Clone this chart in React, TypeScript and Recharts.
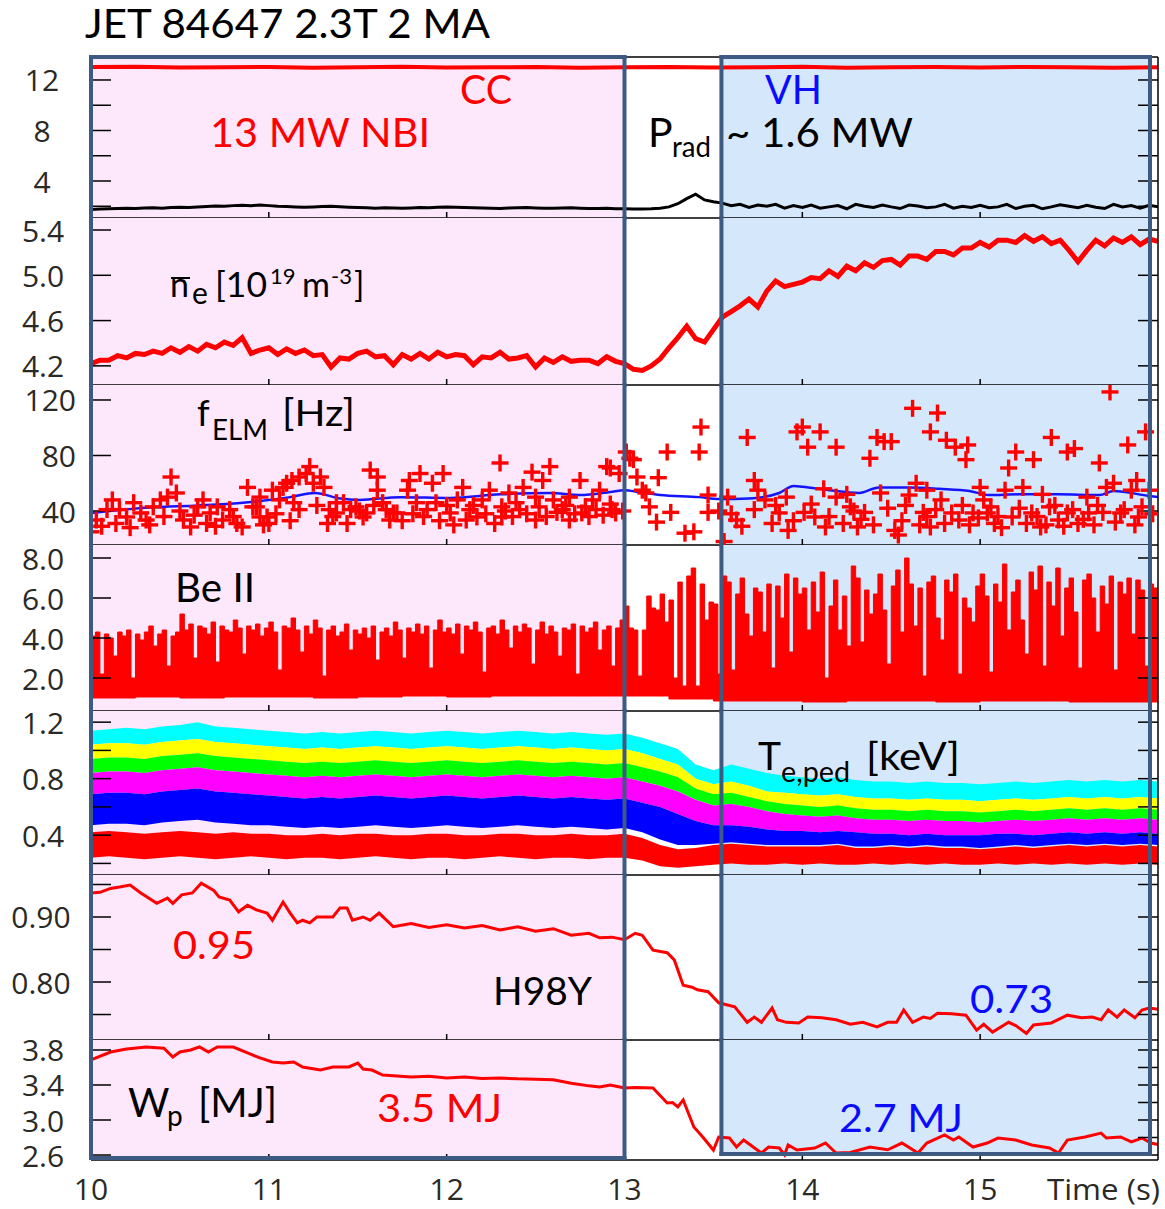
import React from 'react';
import {
  ComposedChart,
  Line,
  Area,
  Scatter,
  XAxis,
  YAxis,
  ReferenceArea,
  ReferenceLine,
} from 'recharts';

// sampling start of the uniformly sampled traces (s)
const T0 = 10;

// panel 1: NBI power and radiated power [MW]
const NBI_DT = 0.25;
const nbiPower = [
  13.02, 13.05, 12.98, 13.0, 13.03, 12.97, 13.01, 13.04, 12.99, 13.0, 13.02, 12.96, 13.0,
  13.03, 12.98, 13.01, 13.04, 12.97, 13.0, 13.02, 12.98, 13.03, 13.0, 12.97, 13.0,
];
const PRAD_DT = 0.05;
const pradPower = [
  1.75, 1.78, 1.8, 1.82, 1.85, 1.83, 1.86, 1.88, 1.85, 1.9, 1.92, 1.9, 1.95, 1.98, 2.02, 2.0, 2.05, 2.08, 2.05, 2.1,
  2.05, 2.0, 1.98, 1.95, 1.92, 1.95, 1.98, 2.0, 1.96, 1.93, 1.9, 1.88, 1.85, 1.88, 1.86, 1.84, 1.87, 1.9, 1.88, 1.92,
  1.95, 1.92, 1.9, 1.88, 1.86, 1.85, 1.83, 1.86, 1.88, 1.9, 1.87, 1.85, 1.84, 1.86, 1.88, 1.85, 1.83, 1.82, 1.84, 1.8,
  1.8, 1.78, 1.78, 1.8, 1.85, 1.95, 2.2, 2.6, 2.95, 2.5, 2.35, 2.25, 2.05, 2.15, 1.9, 2.1, 2.0, 2.15, 1.85, 2.05,
  1.9, 2.1, 1.85, 1.95, 2.05, 1.8, 2.15, 2.0, 1.9, 2.1, 1.95, 1.82, 2.1, 2.02, 1.88, 1.95, 2.15, 1.85, 2.0, 1.9,
  2.08, 1.88, 1.95, 2.15, 1.82, 2.0, 2.08, 1.8, 1.95, 2.12, 2.0, 1.88, 2.08, 1.92, 1.82, 2.15, 1.95, 2.05, 1.85, 2.08,
  1.95,
];

// panel 2: line averaged density [1e19 m^-3]
const NE_DT = 0.05;
const neLine = [
  4.22, 4.25, 4.25, 4.29, 4.27, 4.31, 4.3, 4.33, 4.31, 4.36, 4.32, 4.37, 4.33, 4.39, 4.36, 4.41, 4.38, 4.45, 4.31, 4.34,
  4.36, 4.3, 4.35, 4.31, 4.34, 4.29, 4.3, 4.19, 4.27, 4.26, 4.31, 4.33, 4.28, 4.29, 4.21, 4.3, 4.26, 4.31, 4.26, 4.32,
  4.28, 4.3, 4.29, 4.21, 4.28, 4.27, 4.32, 4.26, 4.27, 4.29, 4.19, 4.27, 4.23, 4.28, 4.24, 4.25, 4.25, 4.22, 4.28, 4.24,
  4.22, 4.17, 4.16, 4.2, 4.26, 4.36, 4.45, 4.55, 4.44, 4.41, 4.52, 4.63, 4.68, 4.73, 4.79, 4.72, 4.86, 4.95, 4.9, 4.92,
  4.94, 4.98, 4.97, 5.04, 4.99, 5.08, 5.04, 5.11, 5.07, 5.13, 5.14, 5.09, 5.17, 5.17, 5.14, 5.21, 5.21, 5.18, 5.24, 5.24,
  5.29, 5.25, 5.31, 5.31, 5.29, 5.35, 5.3, 5.34, 5.28, 5.31, 5.22, 5.12, 5.22, 5.31, 5.26, 5.33, 5.29, 5.34, 5.27, 5.32,
  5.3,
];

// panel 3: ELM frequency [Hz] as [t, f]
const elmFreq: [number, number][] = [
  [10.0, 25], [10.03, 33.5], [10.06, 29], [10.09, 41], [10.12, 48], [10.14, 31], [10.16, 41], [10.2, 35.7],
  [10.22, 28], [10.24, 46], [10.28, 38.6], [10.31, 33.5], [10.33, 30], [10.35, 43], [10.39, 48], [10.41, 36],
  [10.43, 50], [10.45, 64.5], [10.48, 53], [10.5, 40], [10.52, 33.5], [10.56, 28.5], [10.58, 37], [10.6, 43],
  [10.63, 48], [10.65, 31], [10.67, 38.6], [10.7, 29], [10.71, 43], [10.74, 33.5], [10.78, 41], [10.8, 36],
  [10.82, 31], [10.85, 28.5], [10.88, 57], [10.91, 43], [10.93, 43], [10.95, 50], [10.95, 35.7], [10.97, 30],
  [10.99, 35.7], [11.0, 31], [11.02, 55], [11.04, 38], [11.06, 48], [11.08, 57], [11.1, 60], [11.12, 33],
  [11.13, 62], [11.14, 46], [11.17, 64.5], [11.17, 41], [11.21, 67], [11.23, 72], [11.25, 60], [11.27, 44],
  [11.29, 64.5], [11.31, 57], [11.33, 31], [11.34, 41], [11.36, 36], [11.38, 38.6], [11.38, 46], [11.42, 46],
  [11.44, 31], [11.46, 41], [11.49, 43], [11.51, 40], [11.53, 35.7], [11.55, 38.6], [11.57, 69.5], [11.59, 44],
  [11.61, 64.5], [11.61, 55], [11.64, 46], [11.66, 41], [11.68, 33.5], [11.7, 38.6], [11.72, 38.6], [11.75, 33],
  [11.78, 55], [11.79, 62], [11.81, 38], [11.83, 46], [11.85, 67], [11.87, 36], [11.89, 41], [11.92, 60],
  [11.94, 46], [11.96, 33], [11.98, 67], [12.0, 44], [12.02, 38.6], [12.04, 30], [12.06, 48], [12.09, 57],
  [12.11, 33.5], [12.13, 41], [12.15, 44], [12.17, 35.7], [12.2, 48], [12.22, 38], [12.24, 55], [12.27, 31],
  [12.3, 74.6], [12.31, 43], [12.31, 35.7], [12.33, 40], [12.35, 53], [12.37, 36], [12.39, 46], [12.41, 41],
  [12.43, 57], [12.45, 38], [12.48, 68], [12.5, 50], [12.5, 33.5], [12.52, 43], [12.54, 62], [12.56, 36],
  [12.58, 72], [12.6, 48], [12.62, 39], [12.65, 41], [12.67, 44], [12.69, 50], [12.69, 33.5], [12.72, 38],
  [12.75, 62], [12.76, 38.6], [12.78, 43], [12.8, 36], [12.82, 48], [12.84, 41], [12.86, 55], [12.88, 37],
  [12.9, 72], [12.92, 71], [12.92, 45], [12.93, 41], [12.95, 38.6], [12.97, 67], [12.99, 40],
  [13.01, 82.5], [13.03, 78], [13.05, 77], [13.07, 64.5], [13.1, 55], [13.12, 53], [13.14, 43], [13.18, 32],
  [13.19, 64], [13.24, 82.5], [13.26, 39], [13.34, 24], [13.39, 25], [13.42, 82.5], [13.43, 100.5], [13.47, 51.5],
  [13.47, 39], [13.53, 40], [13.56, 18], [13.58, 50],
  [13.6, 38], [13.63, 33.5], [13.66, 29], [13.69, 93], [13.73, 62], [13.73, 41], [13.75, 55], [13.79, 48],
  [13.83, 31], [13.85, 44], [13.87, 38.6], [13.91, 50], [13.92, 26], [13.95, 33], [13.97, 97], [14.0, 100.5],
  [14.01, 39], [14.03, 86], [14.05, 45], [14.07, 35.7], [14.1, 97], [14.12, 56], [14.13, 28.5], [14.15, 36],
  [14.19, 86], [14.19, 50], [14.23, 31], [14.25, 52], [14.27, 43], [14.29, 40], [14.31, 28.5], [14.33, 34],
  [14.35, 39], [14.38, 78], [14.4, 30], [14.42, 93], [14.44, 53], [14.46, 90], [14.48, 42], [14.5, 90],
  [14.52, 26], [14.54, 22.7], [14.56, 33], [14.58, 44], [14.6, 51.5], [14.62, 114], [14.64, 60], [14.66, 30],
  [14.68, 39], [14.7, 55], [14.7, 36], [14.72, 97], [14.72, 28.5], [14.75, 41], [14.76, 110.6], [14.78, 48],
  [14.8, 31], [14.81, 91], [14.84, 38.6], [14.86, 86], [14.88, 33.5], [14.9, 44], [14.92, 77], [14.93, 87.6],
  [14.94, 30], [14.96, 38.6], [14.99, 35], [15.0, 57], [15.02, 48], [15.04, 38.6], [15.06, 43], [15.08, 31],
  [15.1, 36], [15.12, 28], [15.14, 55], [15.16, 71], [15.18, 35.7], [15.2, 82.5], [15.22, 42], [15.24, 57],
  [15.26, 31], [15.29, 38.6], [15.3, 77], [15.32, 36], [15.34, 28.5], [15.35, 52], [15.37, 30], [15.39, 43],
  [15.4, 93], [15.42, 44], [15.44, 33.5], [15.47, 29], [15.49, 82.5], [15.49, 38.6], [15.52, 41], [15.53, 85],
  [15.55, 31], [15.58, 34], [15.6, 50], [15.61, 38.6], [15.64, 30], [15.66, 44], [15.67, 74.6], [15.69, 39],
  [15.71, 57], [15.73, 125.8], [15.75, 60], [15.76, 32], [15.79, 38.6], [15.81, 41], [15.83, 87.6], [15.85, 55],
  [15.87, 30], [15.88, 62], [15.89, 35.7], [15.91, 43], [15.93, 97], [15.95, 55], [15.97, 38],
];
const elmFreqAvg: [number, number][] = [
  [10.0, 38.6], [10.33, 42.5], [10.6, 44], [10.84, 45.8], [11.12, 50], [11.26, 53], [11.4, 49], [11.51, 48],
  [11.74, 50], [12.02, 49.4], [12.3, 52], [12.58, 53], [12.75, 51.5], [12.92, 53.7], [13.0, 55], [13.08, 53.7],
  [13.2, 51.5], [13.42, 50], [13.53, 48.6], [13.7, 49], [13.87, 53], [13.95, 58], [14.0, 57.5], [14.15, 55],
  [14.32, 53], [14.43, 57], [14.6, 57], [14.77, 56], [14.94, 54.4], [15.05, 51.5], [15.22, 52], [15.44, 52],
  [15.67, 51.5], [15.75, 54.4], [15.95, 50.8], [16.0, 50],
];

// panel 4: Be II signal, top of the trace and its floor
const BE_DT = 0.025;
const beIITop = [
  4.1, 4.3, 2.2, 4.2, 4.0, 3.1, 4.3, 4.1, 4.4, 2.0, 4.2, 3.9, 4.3, 4.6, 3.6, 4.2, 4.4, 2.6, 4.1, 4.3,
  5.2, 4.4, 4.7, 3.0, 4.6, 4.5, 4.2, 4.8, 2.8, 4.6, 4.4, 4.3, 4.9, 4.5, 3.2, 4.6, 4.4, 4.7, 4.1, 4.5,
  4.8, 4.3, 2.4, 4.6, 4.5, 5.0, 4.4, 3.3, 4.6, 4.2, 4.9, 4.5, 2.1, 4.4, 4.6, 4.1, 4.3, 4.7, 3.4, 4.4,
  4.2, 4.5, 4.0, 4.6, 2.9, 4.3, 4.5, 4.1, 4.8, 4.4, 3.0, 4.5, 4.3, 4.7, 4.2, 4.6, 2.5, 4.4, 4.9, 4.3,
  4.5, 4.2, 4.7, 3.2, 4.6, 4.4, 4.8, 4.3, 2.3, 4.5, 4.6, 4.2, 4.9, 4.4, 3.5, 4.6, 4.3, 4.7, 4.5, 2.7,
  4.4, 4.8, 4.2, 4.6, 4.3, 3.1, 4.5, 4.4, 4.7, 2.2, 4.6, 4.3, 4.5, 4.8, 3.4, 4.4, 4.6, 2.6, 4.5, 4.9,
  5.6, 4.5, 4.4, 2.1, 4.4, 6.1, 5.5, 5.4, 6.2, 4.8, 5.9, 2.0, 6.8, 1.6, 7.1, 7.5, 1.6, 6.7, 4.9, 5.8,
  5.7, 2.2, 7.1, 6.8, 2.4, 6.2, 7.0, 5.2, 4.1, 6.5, 6.3, 4.3, 6.7, 2.5, 6.6, 5.0, 7.2, 3.3, 7.0, 6.2,
  6.5, 4.4, 6.8, 5.3, 7.3, 2.0, 5.6, 6.9, 4.4, 6.1, 3.6, 7.6, 7.0, 3.8, 6.4, 5.2, 6.2, 7.2, 5.4, 2.7,
  6.6, 7.4, 4.3, 8.0, 6.7, 4.6, 6.5, 2.1, 6.8, 7.1, 5.0, 3.9, 6.9, 6.3, 7.2, 2.2, 6.0, 5.5, 4.8, 6.6,
  7.2, 6.1, 2.3, 6.7, 5.8, 7.7, 4.4, 6.3, 6.9, 4.9, 3.2, 7.3, 6.4, 7.6, 2.6, 6.8, 5.6, 7.5, 4.1, 6.5,
  7.0, 5.3, 2.5, 6.9, 7.2, 6.0, 4.3, 6.6, 5.7, 7.1, 2.4, 6.8, 6.2, 7.0, 4.2, 6.9, 6.4, 2.6, 6.7, 6.5,
  6.3,
];
const BE_BASE_DT = 0.25;
const beIIBase = [
  1.0, 1.05, 1.0, 1.05, 1.05, 1.0, 1.05, 1.1, 1.05, 1.1, 1.1, 1.1, 1.1, 0.95, 0.85, 0.85, 0.8, 0.85, 0.85,
  0.8, 0.85, 0.85, 0.8, 0.8, 0.85,
];

// panel 5: Te,ped channels [keV], edges of the coloured bands
const TE_DT = 0.1;
const teCyanTop = [
  1.14, 1.15, 1.16, 1.15, 1.17, 1.18, 1.2, 1.17, 1.16, 1.15, 1.14, 1.13, 1.12, 1.13, 1.12, 1.13, 1.14, 1.13, 1.12, 1.13,
  1.14, 1.13, 1.12, 1.13, 1.14, 1.13, 1.12, 1.13, 1.12, 1.11, 1.12, 1.09, 1.05, 1.01, 0.9, 0.86, 0.9, 0.87, 0.84, 0.82,
  0.81, 0.8, 0.81, 0.79, 0.78, 0.78, 0.77, 0.78, 0.77, 0.77, 0.76, 0.77, 0.78, 0.77, 0.78, 0.79, 0.78, 0.79, 0.78, 0.79,
  0.78,
];
const teCyanYellow = [
  1.04, 1.05, 1.05, 1.04, 1.06, 1.07, 1.08, 1.06, 1.05, 1.04, 1.03, 1.02, 1.01, 1.02, 1.01, 1.02, 1.03, 1.02, 1.01, 1.02,
  1.03, 1.02, 1.01, 1.02, 1.03, 1.02, 1.01, 1.02, 1.01, 1.0, 1.01, 0.98, 0.94, 0.9, 0.8, 0.76, 0.78, 0.75, 0.71, 0.7,
  0.69, 0.68, 0.69, 0.67, 0.66, 0.66, 0.65, 0.66, 0.65, 0.65, 0.64, 0.65, 0.66, 0.65, 0.66, 0.67, 0.66, 0.67, 0.66, 0.67,
  0.66,
];
const teYellowGreen = [
  0.94, 0.95, 0.95, 0.94, 0.96, 0.97, 0.98, 0.96, 0.95, 0.94, 0.93, 0.92, 0.91, 0.92, 0.91, 0.92, 0.93, 0.92, 0.91, 0.92,
  0.93, 0.92, 0.91, 0.92, 0.93, 0.92, 0.91, 0.92, 0.91, 0.9, 0.91, 0.88, 0.85, 0.81, 0.73, 0.69, 0.7, 0.67, 0.64, 0.62,
  0.61, 0.6, 0.61, 0.59, 0.58, 0.58, 0.57, 0.58, 0.57, 0.57, 0.56, 0.57, 0.58, 0.57, 0.58, 0.59, 0.58, 0.59, 0.58, 0.59,
  0.58,
];
const teGreenMagenta = [
  0.84, 0.85, 0.85, 0.84, 0.86, 0.87, 0.88, 0.86, 0.85, 0.84, 0.83, 0.82, 0.81, 0.82, 0.81, 0.82, 0.83, 0.82, 0.81, 0.82,
  0.83, 0.82, 0.81, 0.82, 0.83, 0.82, 0.81, 0.82, 0.81, 0.8, 0.81, 0.78, 0.75, 0.71, 0.65, 0.61, 0.62, 0.6, 0.57, 0.55,
  0.54, 0.53, 0.54, 0.52, 0.51, 0.51, 0.5, 0.51, 0.5, 0.5, 0.49, 0.5, 0.51, 0.5, 0.51, 0.52, 0.51, 0.52, 0.51, 0.52,
  0.51,
];
const teMagentaBlue = [
  0.69, 0.7, 0.7, 0.69, 0.71, 0.72, 0.73, 0.71, 0.7, 0.69, 0.68, 0.67, 0.66, 0.67, 0.66, 0.67, 0.68, 0.67, 0.66, 0.67,
  0.68, 0.67, 0.66, 0.67, 0.68, 0.67, 0.66, 0.67, 0.66, 0.65, 0.66, 0.63, 0.6, 0.55, 0.5, 0.47, 0.47, 0.46, 0.44, 0.43,
  0.43, 0.42, 0.43, 0.42, 0.41, 0.41, 0.4, 0.41, 0.4, 0.4, 0.4, 0.41, 0.41, 0.4, 0.41, 0.42, 0.41, 0.42, 0.41, 0.42,
  0.41,
];
const teBlueBottom = [
  0.47, 0.48, 0.48, 0.47, 0.49, 0.5, 0.51, 0.49, 0.48, 0.47, 0.47, 0.46, 0.45, 0.46, 0.45, 0.46, 0.47, 0.46, 0.45, 0.46,
  0.47, 0.46, 0.45, 0.46, 0.47, 0.46, 0.45, 0.46, 0.45, 0.44, 0.45, 0.42, 0.37, 0.33, 0.33, 0.34, 0.35, 0.34, 0.33, 0.33,
  0.33, 0.33, 0.34, 0.32, 0.32, 0.33, 0.32, 0.33, 0.32, 0.32, 0.31, 0.32, 0.33, 0.32, 0.33, 0.34, 0.33, 0.34, 0.33, 0.34,
  0.33,
];
const teRedTop = [
  0.42, 0.43, 0.42, 0.41, 0.42, 0.43, 0.42, 0.41, 0.42, 0.41, 0.41, 0.4, 0.4, 0.41, 0.4, 0.41, 0.41, 0.4, 0.4, 0.41,
  0.41, 0.4, 0.4, 0.41, 0.41, 0.4, 0.4, 0.41, 0.4, 0.4, 0.41, 0.38, 0.33, 0.3, 0.31, 0.33, 0.34, 0.33, 0.32, 0.32,
  0.32, 0.32, 0.33, 0.31, 0.31, 0.32, 0.31, 0.32, 0.31, 0.31, 0.3, 0.31, 0.32, 0.31, 0.32, 0.33, 0.32, 0.33, 0.32, 0.33,
  0.32,
];
const teRedBottom = [
  0.24, 0.25, 0.24, 0.23, 0.24, 0.25, 0.24, 0.23, 0.24, 0.25, 0.24, 0.23, 0.24, 0.24, 0.23, 0.24, 0.25, 0.24, 0.23, 0.24,
  0.24, 0.23, 0.24, 0.25, 0.24, 0.23, 0.24, 0.24, 0.23, 0.24, 0.24, 0.22, 0.18, 0.17, 0.18, 0.19, 0.2, 0.19, 0.19, 0.2,
  0.19, 0.2, 0.19, 0.19, 0.2, 0.19, 0.2, 0.19, 0.2, 0.19, 0.19, 0.2, 0.19, 0.2, 0.19, 0.2, 0.19, 0.2, 0.19, 0.2,
  0.19,
];

// panel 6: confinement factor H98Y as [t, H]
const h98y: [number, number][] = [
  [10.0, 0.937], [10.05, 0.938], [10.11, 0.944], [10.16, 0.946], [10.22, 0.949], [10.28, 0.937], [10.37, 0.921],
  [10.43, 0.929], [10.46, 0.921], [10.51, 0.934], [10.57, 0.937], [10.62, 0.952], [10.69, 0.941], [10.72, 0.931],
  [10.78, 0.926], [10.83, 0.908], [10.88, 0.918], [10.93, 0.911], [10.99, 0.906], [11.02, 0.895], [11.08, 0.923],
  [11.12, 0.906], [11.16, 0.891], [11.19, 0.895], [11.23, 0.891], [11.27, 0.9], [11.36, 0.9], [11.4, 0.914],
  [11.44, 0.914], [11.47, 0.895], [11.53, 0.9], [11.57, 0.895], [11.62, 0.906], [11.7, 0.885], [11.8, 0.89],
  [11.9, 0.884], [12.0, 0.888], [12.1, 0.883], [12.2, 0.887], [12.3, 0.88], [12.4, 0.885], [12.5, 0.878],
  [12.6, 0.882], [12.7, 0.872], [12.8, 0.875], [12.86, 0.868], [12.93, 0.869], [13.0, 0.865], [13.06, 0.875],
  [13.1, 0.872], [13.16, 0.849], [13.24, 0.845], [13.28, 0.834], [13.33, 0.795], [13.38, 0.792], [13.41, 0.788],
  [13.47, 0.785], [13.53, 0.768], [13.62, 0.762], [13.69, 0.738], [13.73, 0.746], [13.77, 0.738], [13.83, 0.76],
  [13.86, 0.742], [13.91, 0.738], [13.98, 0.737], [14.03, 0.746], [14.11, 0.745], [14.19, 0.742], [14.27, 0.735],
  [14.34, 0.738], [14.42, 0.731], [14.48, 0.738], [14.53, 0.738], [14.57, 0.757], [14.62, 0.738], [14.68, 0.746],
  [14.72, 0.744], [14.76, 0.752], [14.84, 0.751], [14.92, 0.749], [14.98, 0.726], [15.02, 0.735], [15.07, 0.723],
  [15.16, 0.738], [15.2, 0.733], [15.26, 0.721], [15.3, 0.734], [15.4, 0.737], [15.49, 0.749], [15.57, 0.745],
  [15.63, 0.746], [15.68, 0.742], [15.72, 0.757], [15.77, 0.746], [15.81, 0.757], [15.87, 0.745], [15.91, 0.757],
  [15.95, 0.76], [16.0, 0.758],
];

// panel 7: stored energy [MJ] as [t, Wp]
const wpMJ: [number, number][] = [
  [10.0, 3.686], [10.11, 3.777], [10.2, 3.81], [10.31, 3.834], [10.41, 3.82], [10.46, 3.72], [10.5, 3.777],
  [10.56, 3.8], [10.61, 3.834], [10.66, 3.777], [10.71, 3.834], [10.8, 3.834], [10.88, 3.766], [10.95, 3.709],
  [11.02, 3.663], [11.08, 3.651], [11.14, 3.663], [11.19, 3.606], [11.29, 3.571], [11.36, 3.606], [11.45, 3.606],
  [11.5, 3.651], [11.53, 3.583], [11.58, 3.571], [11.64, 3.514], [11.72, 3.503], [11.8, 3.49], [11.9, 3.5],
  [12.0, 3.48], [12.1, 3.49], [12.2, 3.475], [12.3, 3.48], [12.4, 3.47], [12.5, 3.465], [12.6, 3.46], [12.7, 3.42],
  [12.8, 3.39], [12.86, 3.377], [12.92, 3.4], [13.0, 3.366], [13.06, 3.37], [13.16, 3.366], [13.24, 3.194],
  [13.27, 3.2], [13.3, 3.149], [13.33, 3.229], [13.39, 2.92], [13.44, 2.806], [13.5, 2.657], [13.53, 2.806],
  [13.59, 2.794], [13.63, 2.691], [13.67, 2.771], [13.77, 2.623], [13.81, 2.691], [13.87, 2.68], [13.9, 2.6],
  [13.92, 2.714], [13.97, 2.657], [14.07, 2.68], [14.13, 2.737], [14.19, 2.623], [14.27, 2.63], [14.38, 2.691],
  [14.48, 2.66], [14.56, 2.737], [14.65, 2.623], [14.7, 2.737], [14.8, 2.829], [14.85, 2.771], [14.88, 2.806],
  [14.96, 2.691], [15.04, 2.737], [15.1, 2.794], [15.2, 2.771], [15.29, 2.714], [15.39, 2.68], [15.44, 2.623],
  [15.49, 2.771], [15.59, 2.806], [15.68, 2.851], [15.71, 2.794], [15.79, 2.806], [15.85, 2.749], [15.91, 2.794],
  [15.96, 2.737], [16.0, 2.72],
];

// phases: CC until 13.0 s, VH from ~13.55 s
const CC_END = 13.0;
const VH_START = 13.545;
const VH_END = 15.955;

// ---- rows for recharts ----
const nbiRows = nbiPower.map((v, i) => ({ t: T0 + i * NBI_DT, v }));
const pradRows = pradPower.map((v, i) => ({ t: T0 + i * PRAD_DT, v }));
const neRows = neLine.map((v, i) => ({ t: T0 + i * NE_DT, v }));
const elmRows = elmFreq.map(([t, f]) => ({ t, f }));
const elmAvgRows = elmFreqAvg.map(([t, v]) => ({ t, v }));
const beRows = beIITop.map((top, i) => {
  const t = T0 + i * BE_DT;
  const k = Math.min(beIIBase.length - 1, Math.floor((t - T0 + 1e-9) / BE_BASE_DT));
  return { t, r: [beIIBase[k], top] };
});
const teRows = teCyanTop.map((c, i) => ({
  t: T0 + i * TE_DT,
  cyan: [teCyanYellow[i], c],
  yellow: [teYellowGreen[i], teCyanYellow[i]],
  green: [teGreenMagenta[i], teYellowGreen[i]],
  magenta: [teMagentaBlue[i], teGreenMagenta[i]],
  blue: [teBlueBottom[i], teMagentaBlue[i]],
  red: [teRedBottom[i], teRedTop[i]],
}));
const h98Rows = h98y.map(([t, v]) => ({ t, v }));
const wpRows = wpMJ.map(([t, v]) => ({ t, v }));

// ---- layout / style ----
const W = 1165;
const H = 1209;
const PLOT_LEFT = 91;
const PLOT_RIGHT = 1158;
const PAD = 14;
const X_TICKS = [10, 11, 12, 13, 14, 15];

const PINK = '#fde7fb';
const BLUE_BG = '#d5e8fb';
const FRAME = '#3c5a82';
const RED = '#ff0000';
const TXT_BLUE = '#0b0bff';
const TICK_COLOR = '#2b2925';
const ANN_FONT = "Lato, 'Open Sans', sans-serif";
const TICK_FONT = "'Open Sans', 'Noto Sans', sans-serif";

type PanelProps = {
  top: number;
  height: number;
  domain: [number, number];
  leftTicks: number[];
  rightTicks: number[];
  labels: [number, string][];
  labelX: number;
  labelAnchor: 'middle' | 'end';
  first?: boolean;
  last?: boolean;
  pinkBottom?: number;
  blueBottom?: number;
  children: React.ReactNode;
};

function Panel(props: PanelProps) {
  const { top, height, domain, leftTicks, rightTicks, labels, labelX, labelAnchor, first, last, pinkBottom, blueBottom, children } = props;
  const [lo, hi] = domain;
  const bottomPad = last ? H - (top + height) : PAD;

  const leftTick = (p: any) => {
    const hit = labels.find(([v]) => Math.abs(v - p.payload.value) < 1e-9);
    if (!hit) return <g />;
    return (
      <text x={labelX} y={p.y} textAnchor={labelAnchor} dominantBaseline="central" fontSize={30} fontFamily={TICK_FONT} fill={TICK_COLOR}>
        {hit[1]}
      </text>
    );
  };
  const xTick = (p: any) => {
    if (!last) return <g />;
    return (
      <text x={p.x} y={PAD + height + 40} textAnchor="middle" fontSize={30} fontFamily={TICK_FONT} fill={TICK_COLOR}>
        {p.payload.value}
      </text>
    );
  };
  const border = { stroke: FRAME, strokeWidth: 4, strokeLinecap: 'square' as const, zIndex: 1500 };
  const pb = pinkBottom ?? lo;
  const bb = blueBottom ?? lo;

  return (
    <div style={{ position: 'absolute', left: 0, top: top - PAD }}>
      <ComposedChart
        width={W}
        height={height + PAD + bottomPad}
        margin={{ top: PAD, right: W - PLOT_RIGHT, bottom: bottomPad, left: PLOT_LEFT }}
      >
        <XAxis
          type="number"
          dataKey="t"
          domain={[10, 16]}
          ticks={X_TICKS}
          interval={0}
          allowDataOverflow
          mirror
          orientation="bottom"
          tickSize={6}
          axisLine={{ stroke: '#000', strokeWidth: 1.5 }}
          tickLine={{ stroke: '#000', strokeWidth: 1.5 }}
          tick={xTick}
        />
        <YAxis
          type="number"
          domain={domain}
          ticks={leftTicks}
          interval={0}
          allowDataOverflow
          mirror
          tickSize={20}
          axisLine={{ stroke: '#000', strokeWidth: 1.5 }}
          tickLine={{ stroke: '#000', strokeWidth: 1.5 }}
          tick={leftTick}
        />
        <YAxis
          yAxisId="r"
          orientation="right"
          type="number"
          domain={domain}
          ticks={rightTicks}
          interval={0}
          allowDataOverflow
          mirror
          tickSize={20}
          axisLine={{ stroke: '#000', strokeWidth: 1.5 }}
          tickLine={{ stroke: '#000', strokeWidth: 1.5 }}
          tick={() => <g />}
        />
        <ReferenceArea x1={10} x2={CC_END} y1={pb} y2={hi} fill={PINK} fillOpacity={1} stroke="none" zIndex={-90} />
        <ReferenceArea x1={VH_START} x2={VH_END} y1={bb} y2={hi} fill={BLUE_BG} fillOpacity={1} stroke="none" zIndex={-90} />
        {children}
        {first && <ReferenceLine y={hi} stroke="#000" strokeWidth={1.5} zIndex={1400} />}
        <ReferenceLine segment={[{ x: 10, y: pb }, { x: 10, y: hi }]} {...border} />
        <ReferenceLine segment={[{ x: CC_END, y: pb }, { x: CC_END, y: hi }]} {...border} />
        <ReferenceLine segment={[{ x: VH_START, y: bb }, { x: VH_START, y: hi }]} {...border} />
        <ReferenceLine segment={[{ x: VH_END, y: bb }, { x: VH_END, y: hi }]} {...border} />
        {first && <ReferenceLine segment={[{ x: 10, y: hi }, { x: CC_END, y: hi }]} {...border} />}
        {first && <ReferenceLine segment={[{ x: VH_START, y: hi }, { x: VH_END, y: hi }]} {...border} />}
        {last && <ReferenceLine segment={[{ x: 10, y: pb }, { x: CC_END, y: pb }]} {...border} />}
        {last && <ReferenceLine segment={[{ x: VH_START, y: bb }, { x: VH_END, y: bb }]} {...border} />}
      </ComposedChart>
    </div>
  );
}

const Plus = (p: any) => {
  const { cx, cy } = p;
  if (cx == null || cy == null) return <g />;
  return (
    <g stroke={RED} strokeWidth={3.4}>
      <line x1={cx - 8.5} x2={cx + 8.5} y1={cy} y2={cy} />
      <line x1={cx} x2={cx} y1={cy - 8.5} y2={cy + 8.5} />
    </g>
  );
};

function Annotations() {
  const f = ANN_FONT;
  return (
    <svg width={W} height={H} style={{ position: 'absolute', left: 0, top: 0, pointerEvents: 'none' }}>
      <text x={85} y={38} fontSize={40} fontFamily={f} fill="#000" textLength={405} lengthAdjust="spacingAndGlyphs">JET 84647 2.3T 2 MA</text>
      <text x={460} y={104} fontSize={41} fontFamily={f} fill={RED} textLength={52} lengthAdjust="spacingAndGlyphs">CC</text>
      <text x={765} y={104} fontSize={41} fontFamily={f} fill={TXT_BLUE} textLength={57} lengthAdjust="spacingAndGlyphs">VH</text>
      <text x={210} y={147} fontSize={41} fontFamily={f} fill={RED} textLength={220} lengthAdjust="spacingAndGlyphs">13 MW NBI</text>
      <text x={648} y={147} fontSize={41} fontFamily={f} fill="#000">P</text>
      <text x={672} y={157} fontSize={29} fontFamily={f} fill="#000" textLength={39} lengthAdjust="spacingAndGlyphs">rad</text>
      <text x={726} y={147} fontSize={41} fontFamily={f} fill="#000" textLength={187} lengthAdjust="spacingAndGlyphs">~ 1.6 MW</text>

      <text x={170} y={297} fontSize={34} fontFamily={f} fill="#000">n</text>
      <line x1={171} x2={190} y1={278} y2={278} stroke="#000" strokeWidth={2} />
      <text x={192} y={304} fontSize={30} fontFamily={f} fill="#000">e</text>
      <text x={215} y={297} fontSize={34} fontFamily={f} fill="#000" textLength={52} lengthAdjust="spacingAndGlyphs">[10</text>
      <text x={270} y={284} fontSize={22} fontFamily={f} fill="#000">19</text>
      <text x={302} y={297} fontSize={34} fontFamily={f} fill="#000">m</text>
      <text x={331} y={284} fontSize={22} fontFamily={f} fill="#000">-3</text>
      <text x={354} y={297} fontSize={34} fontFamily={f} fill="#000">]</text>

      <text x={197} y={426} fontSize={36} fontFamily={f} fill="#000">f</text>
      <text x={212} y={440} fontSize={28} fontFamily={f} fill="#000" textLength={56} lengthAdjust="spacingAndGlyphs">ELM</text>
      <text x={282} y={426} fontSize={36} fontFamily={f} fill="#000" textLength={73} lengthAdjust="spacingAndGlyphs">[Hz]</text>

      <text x={175} y={602} fontSize={40} fontFamily={f} fill="#000" textLength={80} lengthAdjust="spacingAndGlyphs">Be II</text>

      <text x={758} y={770} fontSize={39} fontFamily={f} fill="#000">T</text>
      <text x={781} y={782} fontSize={28} fontFamily={f} fill="#000" textLength={69} lengthAdjust="spacingAndGlyphs">e,ped</text>
      <text x={866} y={770} fontSize={39} fontFamily={f} fill="#000" textLength={94} lengthAdjust="spacingAndGlyphs">[keV]</text>

      <text x={173} y={959} fontSize={38} fontFamily={f} fill={RED} textLength={82} lengthAdjust="spacingAndGlyphs">0.95</text>
      <text x={493} y={1005} fontSize={38} fontFamily={f} fill="#000" textLength={99} lengthAdjust="spacingAndGlyphs">H98Y</text>
      <text x={970} y={1013} fontSize={38} fontFamily={f} fill={TXT_BLUE} textLength={83} lengthAdjust="spacingAndGlyphs">0.73</text>

      <text x={128} y={1117} fontSize={40} fontFamily={f} fill="#000">W</text>
      <text x={167} y={1126} fontSize={28} fontFamily={f} fill="#000">p</text>
      <text x={198} y={1117} fontSize={40} fontFamily={f} fill="#000" textLength={79} lengthAdjust="spacingAndGlyphs">[MJ]</text>
      <text x={377} y={1122} fontSize={38} fontFamily={f} fill={RED} textLength={125} lengthAdjust="spacingAndGlyphs">3.5 MJ</text>
      <text x={839} y={1132} fontSize={38} fontFamily={f} fill={TXT_BLUE} textLength={124} lengthAdjust="spacingAndGlyphs">2.7 MJ</text>

      <text x={1047} y={1200} fontSize={30} fontFamily={TICK_FONT} fill={TICK_COLOR} textLength={113} lengthAdjust="spacingAndGlyphs">Time (s)</text>
    </svg>
  );
}

export default function App() {
  return (
    <div style={{ position: 'absolute', left: 0, top: 0, width: W, height: H, background: '#fff', overflow: 'hidden' }}>
      <Panel top={57} height={161} domain={[1.07, 13.82]} leftTicks={[2, 4, 6, 8, 10, 12]} rightTicks={[2, 4, 6, 8, 10, 12]}
        labels={[[12, '12'], [8, '8'], [4, '4']]} labelX={42} labelAnchor="middle" first>
        <Line data={nbiRows} dataKey="v" type="linear" stroke={RED} strokeWidth={4} dot={false} activeDot={false} isAnimationActive={false} />
        <Line data={pradRows} dataKey="v" type="linear" stroke="#000" strokeWidth={3} dot={false} activeDot={false} isAnimationActive={false} />
      </Panel>

      <Panel top={218} height={167} domain={[4.031, 5.506]} leftTicks={[4.2, 4.6, 5.0, 5.4]} rightTicks={[4.2, 4.6, 5.0, 5.4]}
        labels={[[5.4, '5.4'], [5.0, '5.0'], [4.6, '4.6'], [4.2, '4.2']]} labelX={43} labelAnchor="middle">
        <Line data={neRows} dataKey="v" type="linear" stroke={RED} strokeWidth={5} dot={false} activeDot={false} isAnimationActive={false} />
      </Panel>

      <Panel top={385} height={160} domain={[15.5, 130.8]} leftTicks={[40, 80, 120]} rightTicks={[40, 80, 120]}
        labels={[[120, '120'], [80, '80'], [40, '40']]} labelX={76} labelAnchor="end">
        <Scatter data={elmRows} dataKey="f" shape={Plus} isAnimationActive={false} />
        <Line data={elmAvgRows} dataKey="v" type="monotone" stroke="#1414ff" strokeWidth={2.5} dot={false} activeDot={false} isAnimationActive={false} />
      </Panel>

      <Panel top={545} height={166} domain={[0.35, 8.65]} leftTicks={[2, 4, 6, 8]} rightTicks={[2, 4, 6, 8]}
        labels={[[8, '8.0'], [6, '6.0'], [4, '4.0'], [2, '2.0']]} labelX={43} labelAnchor="middle">
        <Area data={beRows} dataKey="r" type="stepAfter" stroke={RED} strokeWidth={1} fill={RED} fillOpacity={1} dot={false} activeDot={false} isAnimationActive={false} />
      </Panel>

      <Panel top={711} height={164} domain={[0.118, 1.279]} leftTicks={[0.2, 0.4, 0.6, 0.8, 1.0, 1.2]} rightTicks={[0.2, 0.4, 0.6, 0.8, 1.0, 1.2]}
        labels={[[1.2, '1.2'], [0.8, '0.8'], [0.4, '0.4']]} labelX={43} labelAnchor="middle">
        <Area data={teRows} dataKey="cyan" type="linear" stroke="none" fill="#00ffff" fillOpacity={1} dot={false} activeDot={false} isAnimationActive={false} />
        <Area data={teRows} dataKey="yellow" type="linear" stroke="none" fill="#ffff00" fillOpacity={1} dot={false} activeDot={false} isAnimationActive={false} />
        <Area data={teRows} dataKey="green" type="linear" stroke="none" fill="#00ff00" fillOpacity={1} dot={false} activeDot={false} isAnimationActive={false} />
        <Area data={teRows} dataKey="magenta" type="linear" stroke="none" fill="#ff00ff" fillOpacity={1} dot={false} activeDot={false} isAnimationActive={false} />
        <Area data={teRows} dataKey="blue" type="linear" stroke="none" fill="#0000ff" fillOpacity={1} dot={false} activeDot={false} isAnimationActive={false} />
        <Area data={teRows} dataKey="red" type="linear" stroke="none" fill={RED} fillOpacity={1} dot={false} activeDot={false} isAnimationActive={false} />
      </Panel>

      <Panel top={875} height={165} domain={[0.7108, 0.9646]} leftTicks={[0.75, 0.8, 0.85, 0.9, 0.95]} rightTicks={[0.75, 0.8, 0.85, 0.9, 0.95]}
        labels={[[0.9, '0.90'], [0.8, '0.80']]} labelX={41} labelAnchor="middle">
        <Line data={h98Rows} dataKey="v" type="linear" stroke={RED} strokeWidth={3} dot={false} activeDot={false} isAnimationActive={false} />
      </Panel>

      <Panel top={1040} height={120} domain={[2.543, 3.914]} leftTicks={[2.6, 3.0, 3.4, 3.8]} rightTicks={[2.6, 2.8, 3.0, 3.2, 3.4, 3.6, 3.8]}
        labels={[[3.8, '3.8'], [3.4, '3.4'], [3.0, '3.0'], [2.6, '2.6']]} labelX={43} labelAnchor="middle" last pinkBottom={2.566} blueBottom={2.611}>
        <Line data={wpRows} dataKey="v" type="linear" stroke={RED} strokeWidth={3} dot={false} activeDot={false} isAnimationActive={false} />
      </Panel>

      <Annotations />
    </div>
  );
}
